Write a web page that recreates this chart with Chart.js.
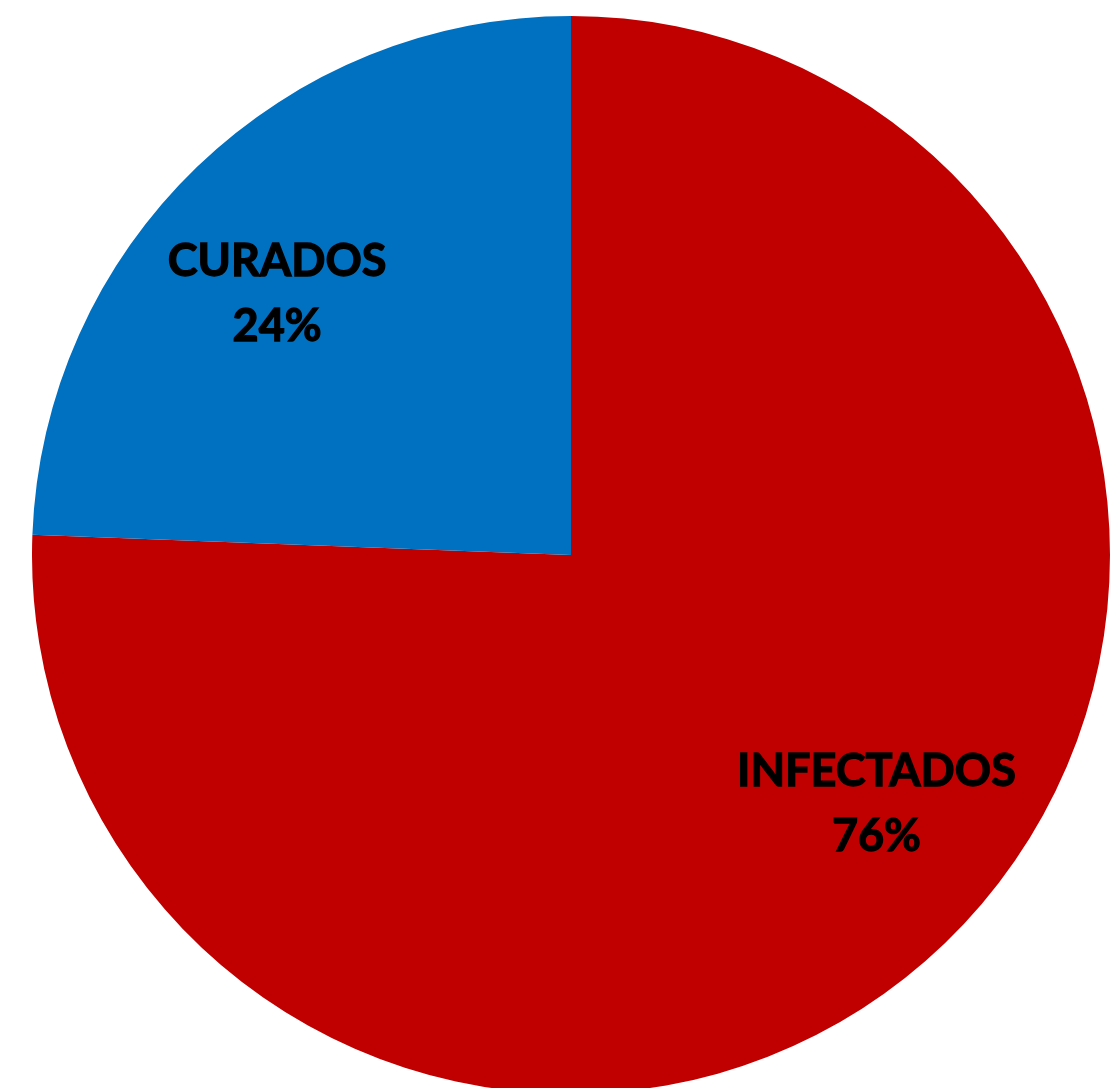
<!DOCTYPE html>
<html lang="en">
<head>
    <meta charset="UTF-8">
    <title>Curados vs Infectados</title>
    <script src="https://cdn.jsdelivr.net/npm/chart.js"></script>
    <style>
        html, body {
            margin: 0;
            padding: 0;
            background: #ffffff;
            overflow: hidden;
            width: 1111px;
            height: 1088px;
        }
        #wrap {
            position: absolute;
            left: 32px;
            top: 16px;
            width: 1078px;
            height: 1078px;
        }
    </style>
</head>
<body>
    <div id="wrap"><canvas id="myChart"></canvas></div>
    <script>
        // Chart data
        const categories = ['INFECTADOS', 'CURADOS'];
        const values = [75.6, 24.4];
        const sliceColors = ['#C00000', '#0070C0'];

        // Draws the "NAME / NN%" labels inside each slice
        const sliceLabels = {
            id: 'sliceLabels',
            afterDatasetsDraw(chart, args, opts) {
                const ctx = chart.ctx;
                const meta = chart.getDatasetMeta(0);
                const total = values.reduce((a, b) => a + b, 0);
                ctx.save();
                ctx.fillStyle = '#000000';
                ctx.strokeStyle = '#000000';
                ctx.lineWidth = 1.3;
                ctx.font = 'bold 45px Lato, "Open Sans", sans-serif';
                ctx.textAlign = 'center';
                ctx.textBaseline = 'middle';
                meta.data.forEach((arc, i) => {
                    const p = arc.getProps(['x', 'y', 'startAngle', 'endAngle', 'outerRadius'], true);
                    const mid = (p.startAngle + p.endAngle) / 2 + opts.angleShift[i] * Math.PI / 180;
                    const r = p.outerRadius * opts.radiusFactor;
                    const x = p.x + Math.cos(mid) * r;
                    const y = p.y + Math.sin(mid) * r;
                    const pct = Math.round(values[i] / total * 100) + '%';
                    // slight stroke to get closer to the heavy Calibri bold look
                    ctx.fillText(categories[i], x, y - 32);
                    ctx.strokeText(categories[i], x, y - 32);
                    ctx.fillText(pct, x, y + 33);
                    ctx.strokeText(pct, x, y + 33);
                });
                ctx.restore();
            }
        };

        const ctx = document.getElementById('myChart').getContext('2d');
        new Chart(ctx, {
            type: 'pie',
            data: {
                labels: categories,
                datasets: [{
                    data: values,
                    backgroundColor: sliceColors,
                    borderWidth: 0
                }]
            },
            options: {
                responsive: true,
                maintainAspectRatio: false,
                animation: false,
                layout: { padding: 0 },
                plugins: {
                    legend: { display: false },
                    tooltip: { enabled: false },
                    sliceLabels: {
                        radiusFactor: 0.73,
                        angleShift: [-7.0, -4.4]
                    }
                }
            },
            plugins: [sliceLabels]
        });
    </script>
</body>
</html>
